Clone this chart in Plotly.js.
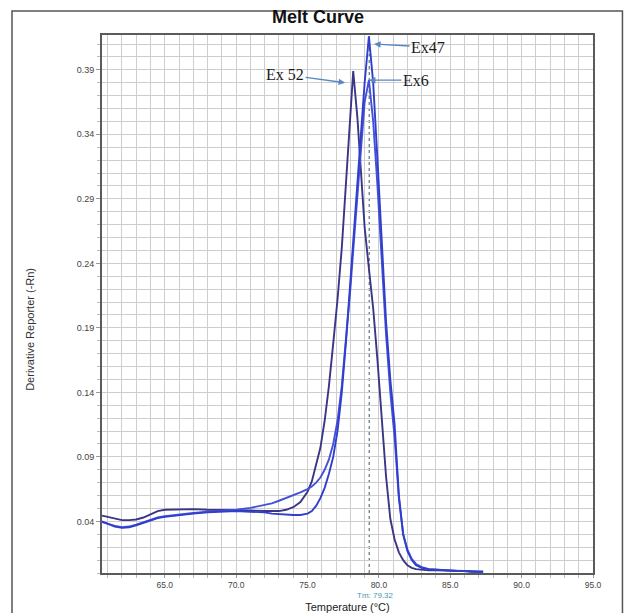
<!DOCTYPE html>
<html>
<head>
<meta charset="utf-8">
<script src="https://cdn.plot.ly/plotly-3.0.1.min.js"></script>
<style>
html,body{margin:0;padding:0;background:#fff;}
#chart{width:625px;height:613px;}
</style>
</head>
<body>
<div id="chart"></div>
<script>
// Temperature (°C)
const temp = [
  60.6, 61.0, 61.5, 62.0, 62.5, 63.0, 63.5, 64.0, 64.5, 65.0,
  66.0, 67.0, 68.0, 69.0, 70.0, 71.0, 72.0, 72.5, 73.0, 73.5,
  74.0, 74.5, 75.0, 75.3, 75.6, 75.9, 76.2, 76.5, 76.8, 77.1,
  77.4, 77.7, 78.0, 78.2, 78.5, 78.8, 79.0, 79.3, 79.6, 79.9,
  80.2, 80.5, 80.8, 81.1, 81.4, 81.7, 82.0, 82.3, 82.6, 83.0,
  83.5, 84.0, 84.5, 85.0, 85.5, 86.0, 86.5, 87.0, 87.3
];
// Derivative Reporter (-Rn)
const ex52 = [
  0.0445, 0.0435, 0.042, 0.041, 0.041, 0.0415, 0.043, 0.0455, 0.048, 0.049,
  0.0495, 0.0495, 0.049, 0.049, 0.049, 0.0485, 0.048, 0.048, 0.048, 0.049,
  0.051, 0.055, 0.063, 0.071, 0.083, 0.097, 0.118, 0.145, 0.178, 0.212,
  0.252, 0.305, 0.362, 0.389, 0.352, 0.300, 0.268, 0.236, 0.205, 0.165,
  0.120, 0.075, 0.042, 0.026, 0.016, 0.010, 0.006, 0.004, 0.003, 0.0025,
  0.002, 0.002, 0.002, 0.002, 0.0015, 0.0015, 0.001, 0.001, 0.001
];
const ex47 = [
  0.040, 0.038, 0.036, 0.035, 0.0355, 0.037, 0.039, 0.041, 0.0425, 0.0435,
  0.045, 0.046, 0.047, 0.0475, 0.048, 0.0475, 0.047, 0.046, 0.0455, 0.045,
  0.045, 0.045, 0.046, 0.048, 0.052, 0.058, 0.066, 0.077, 0.090, 0.110,
  0.140, 0.180, 0.225, 0.260, 0.300, 0.350, 0.380, 0.416, 0.380, 0.320,
  0.255, 0.195, 0.150, 0.115, 0.060, 0.030, 0.017, 0.010, 0.006, 0.004,
  0.003, 0.0025, 0.002, 0.002, 0.0015, 0.0015, 0.001, 0.001, 0.001
];
const ex6 = [
  0.0395, 0.038, 0.0365, 0.0355, 0.036, 0.0375, 0.0395, 0.0415, 0.043, 0.044,
  0.0455, 0.0465, 0.0475, 0.048, 0.049, 0.0505, 0.0525, 0.054, 0.056, 0.058,
  0.060, 0.0625, 0.065, 0.067, 0.070, 0.074, 0.080, 0.088, 0.100, 0.118,
  0.145, 0.180, 0.220, 0.250, 0.295, 0.340, 0.365, 0.382, 0.350, 0.300,
  0.240, 0.185, 0.140, 0.105, 0.058, 0.030, 0.018, 0.011, 0.007, 0.0045,
  0.003, 0.0025, 0.002, 0.002, 0.0015, 0.0015, 0.001, 0.001, 0.001
];
const xTickVals = [65, 70, 75, 80, 85, 90, 95];
const xTickText = ["65.0", "70.0", "75.0", "80.0", "85.0", "90.0", "95.0"];
const yTickVals = [0.04, 0.09, 0.14, 0.19, 0.24, 0.29, 0.34, 0.39];
const yTickText = ["0.04", "0.09", "0.14", "0.19", "0.24", "0.29", "0.34", "0.39"];
const tm = 79.32;
const labels = [
  {name: "Ex47", x: 79.66, y: 0.410, ax: 54, ay: 3},
  {name: "Ex6", x: 79.30, y: 0.382, ax: 47, ay: 0},
  {name: "Ex 52", x: 77.63, y: 0.380, ax: -60, ay: -8}
];

const traces = [
  {x: temp, y: ex52, name: "Ex 52", color: "#3b3585"},
  {x: temp, y: ex6, name: "Ex6", color: "#4450d8"},
  {x: temp, y: ex47, name: "Ex47", color: "#2f3fcc"}
].map(s => ({
  type: "scatter", mode: "lines", x: s.x, y: s.y, name: s.name,
  line: {color: s.color, width: 1.9}, hoverinfo: "x+y+name"
}));

const gridC = "#cdcdcd";
const layout = {
  width: 625, height: 613,
  margin: {l: 102, r: 32, t: 35, b: 40},
  paper_bgcolor: "#ffffff", plot_bgcolor: "#ffffff",
  showlegend: false,
  font: {family: "Liberation Sans, Arial, sans-serif", color: "#444"},
  title: {
    text: "<b>Melt Curve</b>",
    font: {family: "Liberation Sans, Arial, sans-serif", size: 18, color: "#111"},
    x: 0.509, xref: "container", xanchor: "center",
    y: 0.972, yref: "container", yanchor: "middle"
  },
  xaxis: {
    range: [60.6, 95.0],
    tickvals: xTickVals, ticktext: xTickText,
    tickfont: {size: 8.5, color: "#444"},
    ticks: "outside", ticklen: 3, tickcolor: "#999",
    showgrid: true, gridcolor: gridC, gridwidth: 1,
    minor: {dtick: 1, showgrid: true, gridcolor: gridC, gridwidth: 1, ticks: "outside", ticklen: 3, tickcolor: "#bbb"},
    showline: true, linecolor: "#5a5a5a", linewidth: 2, mirror: true,
    zeroline: false,
    title: {text: "Temperature (°C)", font: {size: 11, color: "#222"}, standoff: 19}
  },
  yaxis: {
    range: [0, 0.417],
    tickvals: yTickVals, ticktext: yTickText,
    tickfont: {size: 9, color: "#444"},
    ticks: "outside", ticklen: 4, tickcolor: "#999",
    showgrid: true, gridcolor: gridC, gridwidth: 1,
    minor: {dtick: 0.01, showgrid: true, gridcolor: gridC, gridwidth: 1, ticks: "outside", ticklen: 3, tickcolor: "#bbb"},
    showline: true, linecolor: "#5a5a5a", linewidth: 2, mirror: true,
    zeroline: false
  },
  shapes: [
    {type: "line", xref: "x", yref: "paper", x0: tm, x1: tm, y0: 0, y1: 1,
     line: {color: "#3d5560", width: 1, dash: "dot"}, layer: "below"},
    {type: "rect", xref: "paper", yref: "paper", x0: -0.1833, x1: 1.06, y0: -0.2, y1: 1.0446,
     line: {color: "#555", width: 1.5}, fillcolor: "rgba(0,0,0,0)"}
  ],
  annotations: labels.map(l => ({
    x: l.x, y: l.y, xref: "x", yref: "y", ax: l.ax, ay: l.ay,
    text: l.name, showarrow: true, arrowhead: 2, arrowsize: 1, arrowwidth: 1.3,
    arrowcolor: "#5b86c4", standoff: 0,
    font: {family: "Liberation Serif, Times New Roman, serif", size: 16, color: "#1a1a1a"}
  })).concat([
    {
      x: tm, xref: "x", y: -0.0425, yref: "paper", yanchor: "middle", xshift: 6,
      text: "Tm: " + tm.toFixed(2), showarrow: false,
      font: {size: 8, color: "#4a96a8"}
    },
    {
      x: -0.1466, xref: "paper", y: 0.452, yref: "paper",
      xanchor: "center", yanchor: "middle", textangle: -90,
      text: "Derivative Reporter (-Rn)", showarrow: false,
      font: {size: 11, color: "#333"}
    }
  ])
};

Plotly.newPlot("chart", traces, layout, {displayModeBar: false, staticPlot: true});
</script>
</body>
</html>
